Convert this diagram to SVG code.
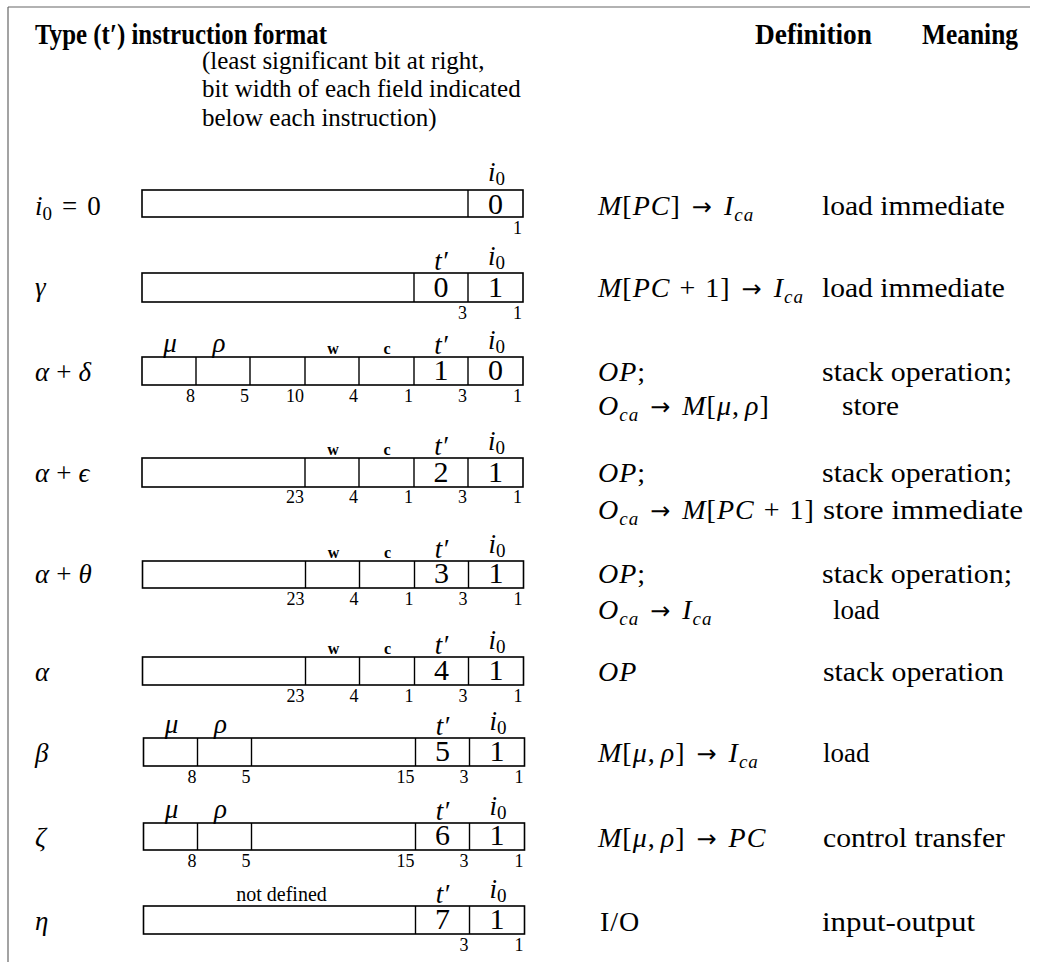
<svg xmlns="http://www.w3.org/2000/svg" width="1038" height="962" viewBox="0 0 1038 962">
<style>
text{font-family:"Liberation Serif","Times New Roman",serif;fill:#000}
.h{font-weight:bold;font-size:29px}
.s{font-size:25px}
.m{font-size:27px}
.d{font-size:28px;letter-spacing:1px}
.i{font-style:italic}
.sub{font-size:19px}
.ar{font-family:"DejaVu Sans",sans-serif;font-size:24px;font-style:normal}
.v{font-size:30px;text-anchor:middle}
.w{font-size:18px;text-anchor:end}
.sm{font-size:16px;font-weight:bold;text-anchor:middle}
.g{font-size:27px;font-style:italic;text-anchor:middle}
.box{fill:none;stroke:#000;stroke-width:1.6}
.dv{stroke:#000;stroke-width:1.4}
.frame{stroke:#666;stroke-width:1.2;fill:none}
</style>
<defs>
<g id="tlab"><text x="441" y="0" class="g">t′</text><text x="488" y="-5" class="m i">i<tspan class="sub" font-style="normal" dy="4">0</tspan></text></g>
</defs>
<g id="frame">
<line class="frame" x1="8" y1="7" x2="1030" y2="7"/>
<line class="frame" x1="8" y1="7" x2="8" y2="962"/>
</g>
<g id="header">
<text class="h" x="35" y="44" textLength="292" lengthAdjust="spacingAndGlyphs">Type (t′) instruction format</text>
<text class="h" x="755" y="44" textLength="117" lengthAdjust="spacingAndGlyphs">Definition</text>
<text class="h" x="922" y="44" textLength="96" lengthAdjust="spacingAndGlyphs">Meaning</text>
<text class="s" x="202" y="69">(least significant bit at right,</text>
<text class="s" x="202" y="97">bit width of each field indicated</text>
<text class="s" x="202" y="126">below each instruction)</text>
</g>
<g id="row-i0">
<text class="m" x="35" y="215"><tspan class="i">i</tspan><tspan class="sub" dy="5">0</tspan><tspan dy="-5" dx="10">=</tspan><tspan dx="10">0</tspan></text>
<rect class="box" x="142" y="190" width="381" height="27"/>
<line class="dv" x1="468" y1="190" x2="468" y2="217"/>
<text x="488" y="181" class="m i">i<tspan class="sub" font-style="normal" dy="4">0</tspan></text>
<text class="v" x="495.5" y="214">0</text>
<text class="w" x="522" y="234">1</text>
<text class="d" x="598" y="215"><tspan class="i">M</tspan>[<tspan class="i">PC</tspan>]<tspan class="ar" dx="11">→</tspan><tspan class="i" dx="11">I</tspan><tspan class="i sub" dy="6">ca</tspan></text>
<text class="m" x="822" y="215" textLength="183" lengthAdjust="spacingAndGlyphs">load immediate</text>
</g>
<g id="row-gamma">
<text class="m i" x="35" y="296">γ</text>
<rect class="box" x="142" y="273" width="381" height="29"/>
<line class="dv" x1="414" y1="273" x2="414" y2="302"/>
<line class="dv" x1="468" y1="273" x2="468" y2="302"/>
<use href="#tlab" y="270"/>
<text class="v" x="441" y="297">0</text>
<text class="v" x="495.5" y="297">1</text>
<text class="w" x="467" y="319">3</text>
<text class="w" x="522" y="319">1</text>
<text class="d" x="598" y="297"><tspan class="i">M</tspan>[<tspan class="i">PC</tspan><tspan dx="9">+</tspan><tspan dx="9">1</tspan>]<tspan class="ar" dx="11">→</tspan><tspan class="i" dx="11">I</tspan><tspan class="i sub" dy="6">ca</tspan></text>
<text class="m" x="822" y="297" textLength="183" lengthAdjust="spacingAndGlyphs">load immediate</text>
</g>
<g id="row-alpha-delta" transform="translate(1,0)">
<text class="m" x="34" y="381"><tspan class="i">α</tspan><tspan dx="7">+</tspan><tspan class="i" dx="7">δ</tspan></text>
<rect class="box" x="141" y="357" width="381" height="28"/>
<line class="dv" x1="195" y1="357" x2="195" y2="385"/>
<line class="dv" x1="249" y1="357" x2="249" y2="385"/>
<line class="dv" x1="304" y1="357" x2="304" y2="385"/>
<line class="dv" x1="358" y1="357" x2="358" y2="385"/>
<line class="dv" x1="413" y1="357" x2="413" y2="385"/>
<line class="dv" x1="467" y1="357" x2="467" y2="385"/>
<text class="g" x="169" y="352">μ</text>
<text class="g" x="218" y="352">ρ</text>
<text class="sm" x="332" y="354">w</text>
<text class="sm" x="386" y="354">c</text>
<use href="#tlab" x="-1" y="354"/>
<text class="v" x="440" y="380">1</text>
<text class="v" x="494.5" y="380">0</text>
<text class="w" x="194" y="402">8</text>
<text class="w" x="248" y="402">5</text>
<text class="w" x="303" y="402">10</text>
<text class="w" x="357" y="402">4</text>
<text class="w" x="412" y="402">1</text>
<text class="w" x="466" y="402">3</text>
<text class="w" x="521" y="402">1</text>
<text class="d" x="597" y="381"><tspan class="i">OP</tspan>;</text>
<text class="d" x="597" y="415"><tspan class="i">O</tspan><tspan class="i sub" dy="6">ca</tspan><tspan class="ar" dy="-6" dx="11">→</tspan><tspan class="i" dx="11">M</tspan>[<tspan class="i">μ</tspan>,<tspan class="i" dx="5">ρ</tspan>]</text>
<text class="m" x="821" y="381" textLength="190" lengthAdjust="spacingAndGlyphs">stack operation;</text>
<text class="m" x="841" y="415" textLength="57" lengthAdjust="spacingAndGlyphs">store</text>
</g>
<g id="row-alpha-epsilon" transform="translate(1,0)">
<text class="m" x="34" y="482"><tspan class="i">α</tspan><tspan dx="7">+</tspan><tspan class="i" dx="7">ϵ</tspan></text>
<rect class="box" x="141" y="458" width="381" height="29"/>
<line class="dv" x1="304" y1="458" x2="304" y2="487"/>
<line class="dv" x1="358" y1="458" x2="358" y2="487"/>
<line class="dv" x1="413" y1="458" x2="413" y2="487"/>
<line class="dv" x1="467" y1="458" x2="467" y2="487"/>
<text class="sm" x="332" y="455">w</text>
<text class="sm" x="386" y="455">c</text>
<use href="#tlab" x="-1" y="455"/>
<text class="v" x="440" y="482">2</text>
<text class="v" x="494.5" y="482">1</text>
<text class="w" x="303" y="503">23</text>
<text class="w" x="357" y="503">4</text>
<text class="w" x="412" y="503">1</text>
<text class="w" x="466" y="503">3</text>
<text class="w" x="521" y="503">1</text>
<text class="d" x="597" y="482"><tspan class="i">OP</tspan>;</text>
<text class="d" x="597" y="519"><tspan class="i">O</tspan><tspan class="i sub" dy="6">ca</tspan><tspan class="ar" dy="-6" dx="11">→</tspan><tspan class="i" dx="11">M</tspan>[<tspan class="i">PC</tspan><tspan dx="9">+</tspan><tspan dx="9">1</tspan>]</text>
<text class="m" x="821" y="482" textLength="190" lengthAdjust="spacingAndGlyphs">stack operation;</text>
<text class="m" x="822" y="519" textLength="200" lengthAdjust="spacingAndGlyphs">store immediate</text>
</g>
<g id="row-alpha-theta" transform="translate(1.5,0)">
<text class="m" x="33.5" y="583"><tspan class="i">α</tspan><tspan dx="7">+</tspan><tspan class="i" dx="7">θ</tspan></text>
<rect class="box" x="141" y="561" width="381" height="27"/>
<line class="dv" x1="304" y1="561" x2="304" y2="588"/>
<line class="dv" x1="358" y1="561" x2="358" y2="588"/>
<line class="dv" x1="413" y1="561" x2="413" y2="588"/>
<line class="dv" x1="467" y1="561" x2="467" y2="588"/>
<text class="sm" x="332" y="558">w</text>
<text class="sm" x="386" y="558">c</text>
<use href="#tlab" x="-1" y="558"/>
<text class="v" x="440" y="583">3</text>
<text class="v" x="494.5" y="583">1</text>
<text class="w" x="303" y="605">23</text>
<text class="w" x="357" y="605">4</text>
<text class="w" x="412" y="605">1</text>
<text class="w" x="466" y="605">3</text>
<text class="w" x="521" y="605">1</text>
<text class="d" x="596.5" y="583"><tspan class="i">OP</tspan>;</text>
<text class="d" x="596.5" y="619"><tspan class="i">O</tspan><tspan class="i sub" dy="6">ca</tspan><tspan class="ar" dy="-6" dx="11">→</tspan><tspan class="i" dx="11">I</tspan><tspan class="i sub" dy="6">ca</tspan></text>
<text class="m" x="820.5" y="583" textLength="190" lengthAdjust="spacingAndGlyphs">stack operation;</text>
<text class="m" x="831.5" y="619">load</text>
</g>
<g id="row-alpha" transform="translate(1.5,0)">
<text class="m i" x="33.5" y="681">α</text>
<rect class="box" x="141" y="657" width="381" height="28"/>
<line class="dv" x1="304" y1="657" x2="304" y2="685"/>
<line class="dv" x1="358" y1="657" x2="358" y2="685"/>
<line class="dv" x1="413" y1="657" x2="413" y2="685"/>
<line class="dv" x1="467" y1="657" x2="467" y2="685"/>
<text class="sm" x="332" y="654">w</text>
<text class="sm" x="386" y="654">c</text>
<use href="#tlab" x="-1" y="654"/>
<text class="v" x="440" y="680">4</text>
<text class="v" x="494.5" y="680">1</text>
<text class="w" x="303" y="702">23</text>
<text class="w" x="357" y="702">4</text>
<text class="w" x="412" y="702">1</text>
<text class="w" x="466" y="702">3</text>
<text class="w" x="521" y="702">1</text>
<text class="d i" x="596.5" y="681">OP</text>
<text class="m" x="821.5" y="681" textLength="181" lengthAdjust="spacingAndGlyphs">stack operation</text>
</g>
<g id="row-beta" transform="translate(2.5,0)">
<text class="m i" x="32.5" y="762">β</text>
<rect class="box" x="141" y="738" width="381" height="28"/>
<line class="dv" x1="195" y1="738" x2="195" y2="766"/>
<line class="dv" x1="249" y1="738" x2="249" y2="766"/>
<line class="dv" x1="413" y1="738" x2="413" y2="766"/>
<line class="dv" x1="467" y1="738" x2="467" y2="766"/>
<text class="g" x="169" y="733">μ</text>
<text class="g" x="218" y="733">ρ</text>
<use href="#tlab" x="-1" y="735"/>
<text class="v" x="440" y="761">5</text>
<text class="v" x="494.5" y="761">1</text>
<text class="w" x="194" y="783">8</text>
<text class="w" x="248" y="783">5</text>
<text class="w" x="412" y="783">15</text>
<text class="w" x="466" y="783">3</text>
<text class="w" x="521" y="783">1</text>
<text class="d" x="595.5" y="762"><tspan class="i">M</tspan>[<tspan class="i">μ</tspan>,<tspan class="i" dx="5">ρ</tspan>]<tspan class="ar" dx="11">→</tspan><tspan class="i" dx="11">I</tspan><tspan class="i sub" dy="6">ca</tspan></text>
<text class="m" x="820.5" y="762">load</text>
</g>
<g id="row-zeta" transform="translate(2.5,0)">
<text class="m i" x="32.5" y="846">ζ</text>
<rect class="box" x="141" y="823" width="381" height="27"/>
<line class="dv" x1="195" y1="823" x2="195" y2="850"/>
<line class="dv" x1="249" y1="823" x2="249" y2="850"/>
<line class="dv" x1="413" y1="823" x2="413" y2="850"/>
<line class="dv" x1="467" y1="823" x2="467" y2="850"/>
<text class="g" x="169" y="818">μ</text>
<text class="g" x="218" y="818">ρ</text>
<use href="#tlab" x="-1" y="820"/>
<text class="v" x="440" y="845">6</text>
<text class="v" x="494.5" y="845">1</text>
<text class="w" x="194" y="867">8</text>
<text class="w" x="248" y="867">5</text>
<text class="w" x="412" y="867">15</text>
<text class="w" x="466" y="867">3</text>
<text class="w" x="521" y="867">1</text>
<text class="d" x="595.5" y="847"><tspan class="i">M</tspan>[<tspan class="i">μ</tspan>,<tspan class="i" dx="5">ρ</tspan>]<tspan class="ar" dx="11">→</tspan><tspan class="i" dx="11">PC</tspan></text>
<text class="m" x="820.5" y="847" textLength="182" lengthAdjust="spacingAndGlyphs">control transfer</text>
</g>
<g id="row-eta" transform="translate(2.5,0)">
<text class="m i" x="32.5" y="930">η</text>
<rect class="box" x="141" y="906" width="381" height="28"/>
<line class="dv" x1="413" y1="906" x2="413" y2="934"/>
<line class="dv" x1="467" y1="906" x2="467" y2="934"/>
<text x="279" y="901" font-size="20" text-anchor="middle">not defined</text>
<use href="#tlab" x="-1" y="903"/>
<text class="v" x="440" y="929">7</text>
<text class="v" x="494.5" y="929">1</text>
<text class="w" x="466" y="951">3</text>
<text class="w" x="521" y="951">1</text>
<text class="d" x="597.5" y="931">I/O</text>
<text class="m" x="819.5" y="931" textLength="153" lengthAdjust="spacingAndGlyphs">input-output</text>
</g>
</svg>
